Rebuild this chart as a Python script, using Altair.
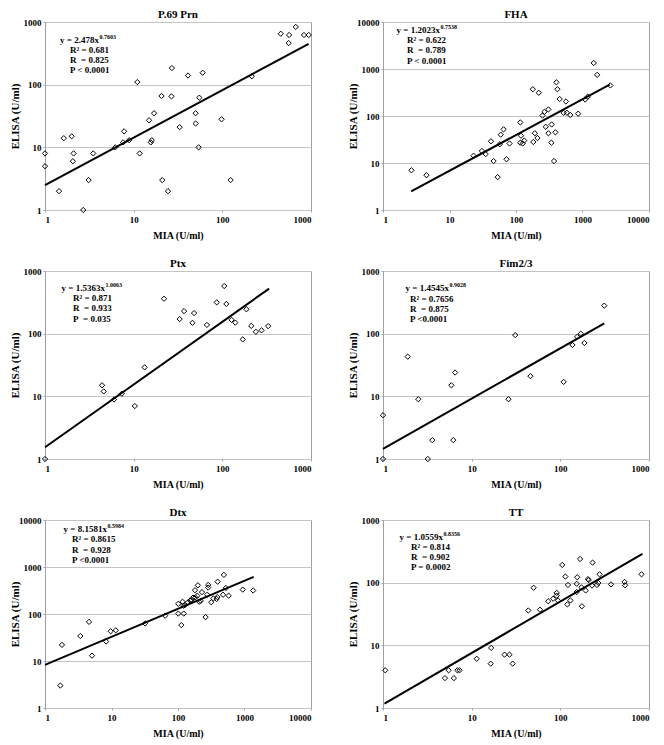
import altair as alt
import pandas as pd

FONT = "Liberation Serif"
W, H = 266, 188

titles = ["P.69 Prn", "FHA", "Ptx", "Fim2/3", "Dtx", "TT"]
max_dom = [1000, 10000, 1000, 1000, 10000, 1000]

# --- scatter data (MIA x, ELISA y) ---
p69_x = [1, 1, 1.44, 1.63, 2.0, 2.1, 2.06, 2.7, 3.1, 3.5, 6.2, 7.8, 7.6, 8.9, 11.0, 11.7, 14.9, 15.6, 16, 17,
         20.6, 21, 24.4, 26.7, 27, 33, 41, 50, 50, 54, 55, 60, 98, 124, 215, 456, 566, 560, 673, 834, 942]
p69_y = [8, 5, 2, 14, 15, 8, 6, 1, 3, 8, 10, 18, 12, 13, 110, 8, 27, 12, 13, 35,
         66, 3, 2, 65, 184, 21, 140, 24, 35, 10, 62, 155, 28, 3, 136, 650, 620, 460, 835, 620, 620]

fha_x = [2.68, 4.5, 23, 30.7, 35, 42, 46, 53, 57, 59, 65, 72, 80, 116, 119, 116, 126, 133, 179, 182,
         192, 210, 220, 250, 268, 280, 307, 307, 344, 340, 373, 391, 405, 419, 454, 520, 563, 583, 654, 861,
         1096, 1200, 1476, 1660, 2620]
fha_y = [7.0, 5.5, 14.3, 18, 15.5, 29, 11, 5, 25, 40, 52, 12, 26, 73, 38, 27, 26, 30, 371, 28,
         43, 34, 312, 102, 123, 59, 138, 43, 66, 27, 11, 45, 521, 372, 230, 117, 204, 117, 105, 112,
         224, 257, 1340, 750, 447]

ptx_x = [1, 4.4, 4.6, 6.0, 7.35, 10.3, 13.3, 22, 33, 37, 46, 48, 67, 86.5, 105, 111, 127, 140, 170, 187,
         212, 239, 277, 329]
ptx_y = [1, 15, 12, 8.9, 11, 7, 29, 361, 171, 229, 149, 213, 138, 316, 575, 298, 166, 150, 81, 245,
         133, 107, 113, 132]

fim_x = [1, 1, 1.9, 2.5, 3.6, 3.2, 5.9, 6.5, 6.2, 26, 31, 46, 109, 137, 155, 170, 187, 313]
fim_y = [5, 1, 43, 9, 2, 1, 15, 24, 2, 9, 95, 21, 17, 66, 89, 100, 71, 280]

dtx_x = [1.7, 1.8, 3.4, 4.6, 5.1, 8.3, 9.7, 11.6, 32, 64, 101, 101, 112, 117, 122, 121, 128, 140, 152, 160,
         168, 180, 182, 195, 199, 209, 220, 229, 260, 275, 284, 284, 316, 340, 381, 390, 394, 476, 490, 525,
         578, 942, 1350]
dtx_y = [3, 22, 34, 68, 13, 26, 43, 45, 63, 92, 102, 165, 58, 182, 102, 150, 155, 175, 193, 200,
         223, 321, 226, 245, 408, 182, 190, 292, 86, 257, 415, 365, 178, 214, 209, 229, 487, 257, 679, 359,
         245, 330, 316]

tt_x = [1.06, 5.0, 5.5, 6.3, 6.9, 7.3, 11.4, 16.4, 16.6, 23.5, 26.7, 29, 43.5, 50, 59, 73, 83, 91, 91, 94,
        105, 114, 120, 122, 130, 155, 153, 153, 167, 173, 175, 193, 205, 209, 228, 231, 259, 268, 277, 373,
        530, 538, 824]
tt_y = [4, 3, 4, 3, 4, 4, 6.1, 5.1, 9.1, 7.1, 7.1, 5.1, 36, 83, 37, 50.5, 55.5, 68.7, 62, 52,
        192, 125, 45, 92, 52, 122, 96, 71, 239, 84, 42, 75, 114, 110, 90, 209, 92, 99, 136, 94,
        103, 91, 136]

xs = [p69_x, fha_x, ptx_x, fim_x, dtx_x, tt_x]
ys = [p69_y, fha_y, ptx_y, fim_y, dtx_y, tt_y]

# --- fitted power-law line endpoints as drawn ---
fit_x = [[1, 940], [2.65, 2560], [1, 337], [1, 313], [1, 1374], [1.04, 843]]
fit_y = [[2.49, 447], [2.49, 464], [1.54, 523], [1.45, 146], [8.3, 618], [1.17, 289]]

# --- annotation text ---
eq_main = ["y = 2.478x", "y = 1.2023x", "y = 1.5363x", "y = 1.4545x", "y = 8.1581x", "y = 1.0559x"]
eq_exp = ["0.7603", "0.7538", "1.0063", "0.9028", "0.5984", "0.8356"]
r2_txt = ["R\u00b2 = 0.681", "R\u00b2 = 0.622", "R\u00b2 = 0.871", "R\u00b2 = 0.7656", "R\u00b2 = 0.8615", "R\u00b2 = 0.814"]
r_txt = ["R\u00a0 = 0.825", "R\u00a0 = 0.789", "R\u00a0 = 0.933", "R\u00a0 = 0.875", "R\u00a0 = 0.928", "R\u00a0 = 0.902"]
p_txt = ["P < 0.0001", "P < 0.0001", "P\u00a0 = 0.035", "P <0.0001", "P <0.0001", "P = 0.0002"]

# annotation placement (pixels inside plot)
eq_end = [54, 57, 60, 66, 62, 60]
stat_x = [25, 24, 28, 27, 27, 28]
row_y = [[18, 28, 38, 48], [8, 18, 28, 39], [17, 27, 37, 48], [17, 28, 38, 48], [9, 19, 30, 40], [17, 27, 37, 47]]


def txt(s, x, y, align="left", size=9):
    return alt.Chart(pd.DataFrame({"d": [0]})).mark_text(
        text=s, align=align, baseline="middle", font=FONT, fontWeight="bold",
        fontSize=size, color="black"
    ).encode(x=alt.value(x), y=alt.value(y))


def panel(i):
    top = max_dom[i]
    ticks = [v for v in [1, 10, 100, 1000, 10000] if v <= top]
    xenc = alt.X("MIA:Q", scale=alt.Scale(type="log", domain=[1, top]),
                 axis=alt.Axis(values=ticks, format="d", grid=False, title="MIA (U/ml)"))
    yenc = alt.Y("ELISA:Q", scale=alt.Scale(type="log", domain=[1, top]),
                 axis=alt.Axis(values=ticks, format="d", grid=True, title="ELISA (U/ml)",
                               minExtent=24, maxExtent=24))
    pts = alt.Chart(pd.DataFrame({"MIA": xs[i], "ELISA": ys[i]})).mark_point(
        shape="diamond", filled=False, color="black", size=28, strokeWidth=1, opacity=1
    ).encode(x=xenc, y=yenc)
    line = alt.Chart(pd.DataFrame({"MIA": fit_x[i], "ELISA": fit_y[i]})).mark_line(
        color="black", strokeWidth=2
    ).encode(x=xenc, y=yenc)
    ry = row_y[i]
    texts = [
        txt(eq_main[i], eq_end[i], ry[0], align="right"),
        txt(eq_exp[i], eq_end[i] + 0.5, ry[0] - 3, align="left", size=6),
        txt(r2_txt[i], stat_x[i], ry[1]),
        txt(r_txt[i], stat_x[i], ry[2]),
        txt(p_txt[i], stat_x[i], ry[3]),
    ]
    return alt.layer(line, pts, *texts).properties(width=W, height=H, title=titles[i])


chart = alt.concat(*[panel(i) for i in range(6)], columns=2,
                   spacing={"row": 16, "column": 32}).properties(padding=0).configure_view(
    stroke="#a0a0a0", strokeWidth=1
).configure_axis(
    labelFont=FONT, labelFontWeight="bold", labelFontSize=9, labelColor="black",
    titleFont=FONT, titleFontWeight="bold", titleFontSize=10, titleColor="black",
    domain=False, tickColor="#a0a0a0", tickSize=2, gridColor="#c4c4c4", gridWidth=1,
    labelPadding=2
).configure_axisX(titlePadding=6, labelPadding=3).configure_axisY(titlePadding=1, titleFontSize=11).configure_title(
    font=FONT, fontSize=11, fontWeight="bold", color="black", offset=-2
)

chart.save("out.html", embed_options={"renderer": "svg", "actions": False})
